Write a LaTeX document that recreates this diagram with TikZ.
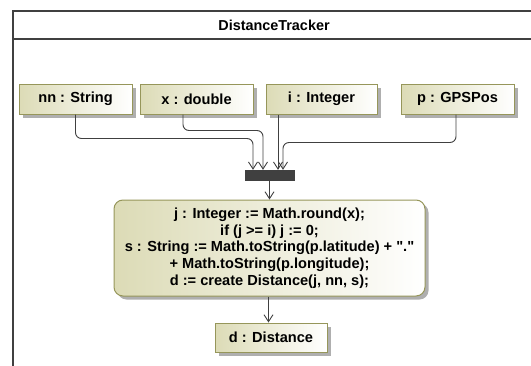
\documentclass[tikz,border=0pt]{standalone}
\usepackage{fontspec}
\setmainfont{Liberation Sans}[Ligatures=TeXOff]
\usetikzlibrary{arrows.meta,shadows,calc}
\definecolor{olivefill}{RGB}{220,219,182}
\definecolor{oliveline}{RGB}{150,150,90}
\definecolor{lineg}{RGB}{64,64,64}
\definecolor{shadowg}{RGB}{175,175,175}
\tikzset{
  objbox/.style={draw=oliveline, line width=1pt, left color=olivefill, right color=white,
    minimum height=30pt, inner sep=0pt,
    font=\fontsize{14.6}{16.7}\selectfont\bfseries,
    drop shadow={shadow xshift=3.5pt, shadow yshift=-3.5pt, fill=shadowg, opacity=1}},
  actbox/.style={draw=oliveline, line width=1pt, left color=olivefill, right color=white,
    rounded corners=9pt, align=center, inner sep=0pt,
    font=\fontsize{14.6}{16.7}\selectfont\bfseries,
    drop shadow={shadow xshift=3.5pt, shadow yshift=-3.5pt, fill=shadowg, opacity=1}},
  forkbar/.style={fill=lineg, draw=lineg, inner sep=0pt},
  flow/.style={draw=lineg, line width=0.9pt, rounded corners=6pt,
    -{Straight Barb[length=7pt,width=9pt]}},
  frameline/.style={draw=lineg, line width=2pt},
}
\begin{document}
\begin{tikzpicture}[x=1pt,y=-1pt]
\useasboundingbox (0,0) rectangle (531,365);
% frame
\draw[frameline] (13,366) -- (13,11) -- (533,11);
\draw[frameline] (13,39) -- (533,39);
\node[font=\fontsize{14.4}{16}\selectfont\bfseries] (title) at (274,25) {DistanceTracker};
% objects
\node[objbox, minimum width=113pt] (nn) at (75.5,99) {nn : String};
\node[objbox, minimum width=113pt] (xd) at (196.5,99) {x : double};
\node[objbox, minimum width=111pt] (ii) at (321.5,99) {i : Integer};
\node[objbox, minimum width=113pt] (pp) at (457.5,99) {p : GPSPos};
% fork bar
\node[forkbar, minimum width=49pt, minimum height=10pt] (bar) at (269.5,175) {};
% action
\node[actbox, minimum width=311pt, minimum height=96pt] (act) at (269.5,248)
  {j : Integer := Math.round(x);\\
   if (j >= i) j := 0;\\
   s : String := Math.toString(p.latitude) + "."\\
   + Math.toString(p.longitude);\\
   d := create Distance(j, nn, s);};
% result
\node[objbox, minimum width=112pt, minimum height=29pt] (dd) at (271,337.5) {d : Distance};
% flows
\draw[flow] (nn.south) -- ++(0,24) -| ([xshift=-16.5pt]bar.north);
\draw[flow] ([xshift=-13.5pt]xd.south) -- ++(0,16) -| ([xshift=-6.5pt]bar.north);
\draw[flow] ([xshift=-43.5pt]ii.south) -- ([xshift=8.5pt]bar.north);
\draw[flow] ([xshift=-1.5pt]pp.south) -- ++(0,28) -| ([xshift=13.5pt]bar.north);
\draw[flow] (bar.south) -- (act.north);
\draw[flow] ([xshift=-1pt]act.south) -- ([xshift=-1pt]act.south |- dd.north);
\end{tikzpicture}
\end{document}
